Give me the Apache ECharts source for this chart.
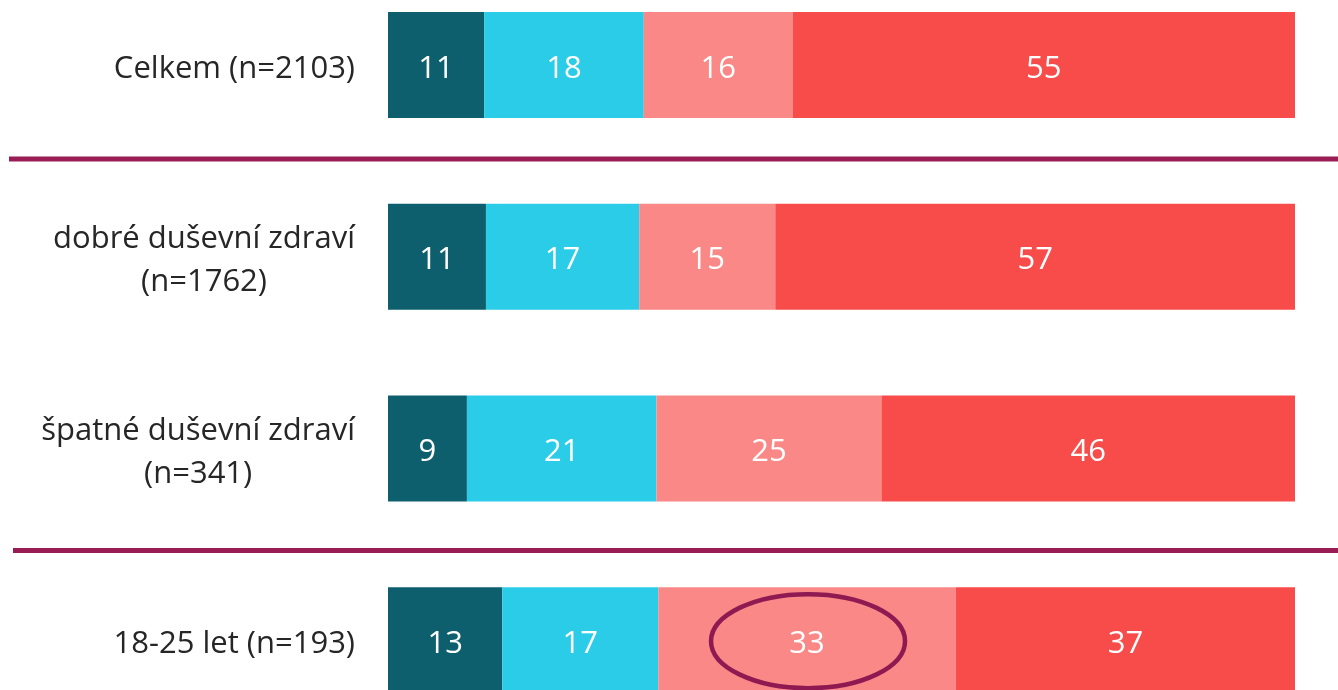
<!DOCTYPE html>
<html>
<head>
<meta charset="utf-8">
<script src="https://cdn.jsdelivr.net/npm/echarts@6/dist/echarts.min.js"></script>
<style>
html,body{margin:0;padding:0;background:#fff;overflow:hidden;width:1338px;height:690px;}
#main{width:1338px;height:767px;margin-top:-31px;}
</style>
</head>
<body>
<div id="main"></div>
<script>
const categories = ["Celkem (n=2103)", "dobré duševní zdraví\n(n=1762)", "špatné duševní zdraví\n(n=341)", "18-25 let (n=193)"];
const seriesNames = ["s1", "s2", "s3", "s4"];
const s1 = [10.6, 10.8, 8.7, 12.6];
const s2 = [17.6, 16.9, 20.9, 17.2];
const s3 = [16.4, 15.0, 24.8, 32.8];
const s4 = [55.4, 57.3, 45.6, 37.4];
const colors = ["#0e5f6e", "#2bcce8", "#f98887", "#f74c4a"];

const FONT = "'Open Sans', 'Noto Sans', sans-serif";
const OFFSET = 31; // container is shifted up by this many pixels
const chart = echarts.init(document.getElementById('main'), null, {renderer: 'canvas'});
const values = [s1, s2, s3, s4];

const option = {
  animation: false,
  backgroundColor: '#fff',
  grid: {left: 388, right: 43, top: 0, bottom: 0, containLabel: false},
  xAxis: {type: 'value', min: 0, max: 100, show: false},
  yAxis: {
    type: 'category', data: categories, inverse: true,
    axisLine: {show: false}, axisTick: {show: false}, splitLine: {show: false},
    axisLabel: {
      margin: 33, color: '#262626', fontFamily: FONT, fontSize: 31,
      padding: [8, 0, 0, 0],
      formatter: function (v) {
        return v.split('\n').map(function (s) { return '{a|' + s + '}'; }).join('\n');
      },
      rich: {a: {align: 'center', fontSize: 31, fontFamily: FONT, color: '#262626', lineHeight: 43}}
    }
  },
  series: values.map(function (arr, i) {
    return {
      name: seriesNames[i], type: 'bar', stack: 'total', barWidth: 106,
      data: arr,
      itemStyle: {color: colors[i]},
      label: {
        show: true, position: 'inside', offset: [0, 4], color: '#fff', fontFamily: FONT, fontSize: 31,
        formatter: function (p) { return Math.round(p.value); }
      }
    };
  })
};
chart.setOption(option);

// highlight ellipse around the 18-25 / third segment
const hiIdx = 3;
const cx = s1[hiIdx] + s2[hiIdx] + s3[hiIdx] / 2;
const c = chart.convertToPixel({gridIndex: 0}, [cx, categories[hiIdx]]);
chart.setOption({
  graphic: [
    {type: 'line', shape: {x1: 9, y1: 159 + OFFSET, x2: 1338, y2: 159 + OFFSET}, style: {stroke: '#9a1c55', lineWidth: 5}, z: 100},
    {type: 'line', shape: {x1: 13, y1: 550.5 + OFFSET, x2: 1338, y2: 550.5 + OFFSET}, style: {stroke: '#9a1c55', lineWidth: 5}, z: 100},
    {type: 'ellipse', shape: {cx: c[0] + 1, cy: c[1] + 1, rx: 97, ry: 47}, style: {fill: 'none', stroke: '#8f1a52', lineWidth: 4.5}, z: 100}
  ]
});
</script>
</body>
</html>
